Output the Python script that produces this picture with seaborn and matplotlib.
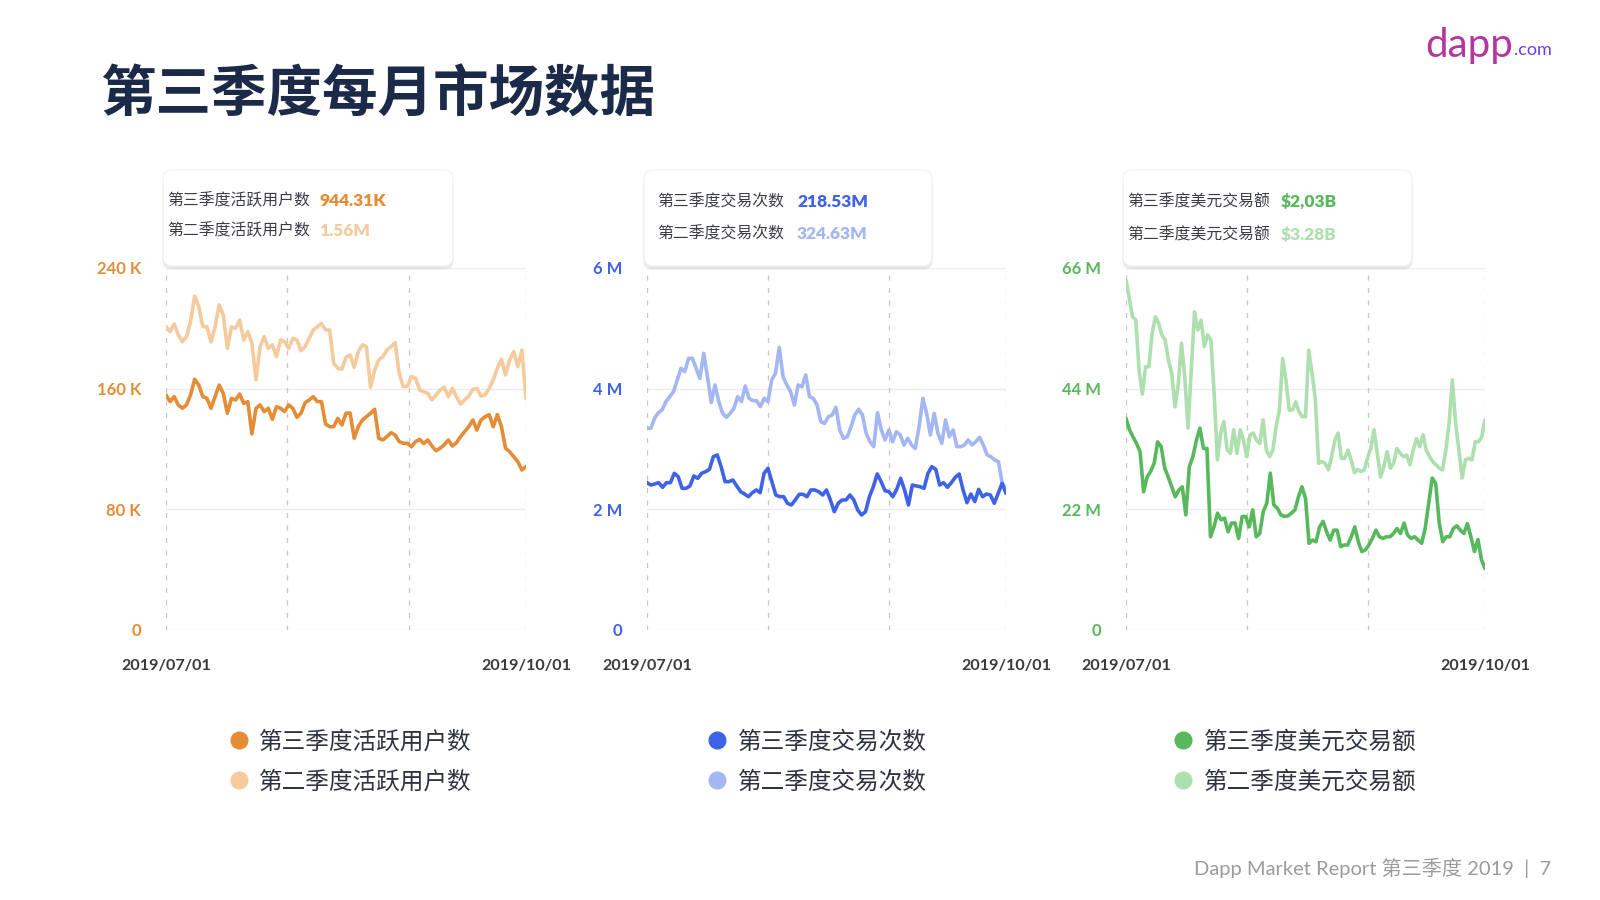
import numpy as np
import pandas as pd
import matplotlib
matplotlib.use("Agg")
import matplotlib.pyplot as plt
import seaborn as sns
from matplotlib.patches import FancyBboxPatch
from matplotlib.transforms import IdentityTransform
from matplotlib.lines import Line2D

# ---------------- data ----------------
# Active users (K)
q3_users = [155.8, 151.4, 154.7, 149.2, 147, 149.2, 155.8, 166.2, 162.4, 154.7, 153.6, 147, 154.7,
            162.4, 156.9, 143.7, 153.6, 152.5, 156.5, 150.3, 151.4, 130, 147, 149.2, 144.8, 147,
            139.7, 148, 147, 144.8, 149.2, 147, 141, 143.7, 150.7, 152.5, 154.7, 151.4, 151.4,
            136.6, 134.8, 134.8, 140.3,
            135.9, 143.7, 143.9, 127.1, 134.8, 139.2, 141.4, 143.7, 146.3, 127.1, 126, 128.2,
            130.8, 129.3, 124.9, 123.8, 123.8, 121.5, 124.9, 126.4, 123.6, 126, 122, 118.9, 120.5,
            122.7, 126, 122, 124.2, 128.2, 131.5, 134.8, 139.2, 132.6, 139.2, 141.4, 142.8, 134.8,
            142.8, 134.8, 120.5, 118.2, 114.9, 111.6, 106.1, 108.3]
q2_users = [201, 197.8, 202.9, 195.6, 191.2, 194.5, 204.4, 221.4, 214.4, 201.1, 201, 191, 201,
            215.5, 208.8, 186.7, 201, 200, 205.5, 192.3, 197.8, 190, 165.8, 187.8, 194.5, 186.8,
            189, 181.2, 192.3, 191.2, 186.8, 193.4, 192.3, 185.2, 187.8, 193.4, 198.9, 201, 203.3,
            198.9, 198.9, 176.8,
            173.5, 172.9, 180.8, 182.3, 174.2, 184.5, 189, 187.8, 160.9, 172.4, 179, 181.2, 185.6,
            187.8, 190.5, 170.2, 161.3, 161.6, 168, 166.9, 159.1, 158, 156.9, 152.5, 155.8, 159.1,
            160.9, 154.7, 160.2, 154.7, 149.8, 152.5, 155.1, 159.6, 160.2, 155.1, 155.8, 160.2,
            165.8, 173.5, 179.5, 169.1, 179, 184.5, 174.6, 185.6, 153.6]

# Transactions (M)
q3_tx = [2.442, 2.403, 2.420, 2.442, 2.365, 2.442, 2.442, 2.597, 2.541, 2.348, 2.348, 2.387, 2.553,
         2.514, 2.597, 2.624, 2.663, 2.873, 2.901, 2.707, 2.459, 2.459, 2.486, 2.387, 2.293, 2.254,
         2.210, 2.276, 2.321, 2.276, 2.597, 2.680, 2.459, 2.238, 2.210, 2.210, 2.100, 2.072, 2.155,
         2.249, 2.249, 2.210, 2.321, 2.321,
         2.293, 2.238, 2.321, 2.155, 1.961, 2.100, 2.155, 2.155, 2.238, 2.155, 1.989, 1.906, 1.961,
         2.210, 2.376, 2.586, 2.459, 2.309, 2.293, 2.210, 2.331, 2.514, 2.321, 2.072, 2.403, 2.387,
         2.376, 2.348, 2.597, 2.707, 2.663, 2.403, 2.442, 2.365, 2.442, 2.531, 2.586, 2.321, 2.110,
         2.254, 2.128, 2.331, 2.210, 2.254, 2.238, 2.100, 2.265, 2.431, 2.265]
q2_tx = [3.343, 3.343, 3.508, 3.602, 3.647, 3.785, 3.867, 3.950, 4.144, 4.337, 4.282, 4.503, 4.503,
         4.337, 4.171, 4.586, 4.199, 3.768, 4.061, 3.785, 3.591, 3.525, 3.591, 3.674, 3.867, 3.785,
         4.044, 3.840, 3.801, 3.801, 3.702, 3.840, 3.785, 4.144, 4.254, 4.685, 4.199, 4.061, 3.950,
         3.729, 4.061, 4.033, 4.227, 3.867, 3.840, 3.729, 3.453, 3.425,
         3.536, 3.564, 3.691, 3.315, 3.177, 3.204, 3.370, 3.564, 3.658, 3.564, 3.260, 3.121, 3.039,
         3.602, 3.315, 3.149, 3.315, 3.121, 3.287, 3.232, 3.066, 3.177, 3.066, 3.011, 3.370, 3.840,
         3.591, 3.232, 3.591, 3.260, 3.094, 3.481, 3.204, 3.315, 3.039, 3.039, 3.066, 3.149, 3.066,
         3.121, 3.193, 3.066, 2.901, 2.873, 2.818, 2.790, 2.431, 2.348]

# USD volume (M)
q3_vol = [38.6, 36.5, 35.2, 34.0, 32.5, 25.2, 27.9, 28.9, 30.4, 34.3, 33.4, 29.5, 27.9, 26.1, 24.3,
          25.5, 26.1, 21.0, 29.8, 31.6, 34.6, 36.8, 33.1, 33.1, 17.0, 18.8, 21.3, 20.1, 20.4, 17.9,
          19.5, 19.5, 16.7, 20.7, 20.7, 18.8, 21.9, 17.0, 17.6, 21.6, 23.1, 28.6, 22.8, 22.2, 21.0,
          20.7, 20.8, 21.3,
          21.9, 24.3, 26.1, 24.0, 15.8, 16.4, 16.1, 18.8, 19.8, 17.9, 16.4, 18.2, 18.2, 15.2, 15.5,
          15.5, 17.0, 18.8, 16.1, 14.3, 14.6, 15.5, 16.7, 18.2, 17.0, 16.7, 17.0, 17.0, 17.6, 18.5,
          17.6, 19.5, 17.3, 16.7, 17.0, 16.4, 15.8, 18.5, 23.1, 27.7, 26.7, 19.5, 16.1, 17.0, 17.0,
          18.5, 19.0, 18.2, 17.6, 19.4, 17.0, 14.3, 16.5, 12.8, 11.2]
q2_vol = [63.8, 60.5, 57.1, 56.5, 47.4, 43.0, 48.0, 48.0, 54.1, 57.1, 55.9, 53.8, 52.9, 49.2, 46.8,
          40.7, 44.7, 52.3, 46.2, 36.8, 47.4, 58.0, 54.7, 56.5, 51.7, 53.8, 52.9, 43.2, 31.0, 35.9,
          38.0, 32.8, 32.2, 36.5, 32.2, 36.5, 34.6, 31.6, 35.6, 35.9, 34.6, 34.0, 38.3, 32.8, 31.6,
          32.8, 37.1, 40.1, 49.5, 45.6, 40.1, 40.1,
          41.6, 39.8, 38.9, 38.9, 51.0, 46.8, 42.2, 30.4, 30.7, 30.4, 29.2, 31.6, 34.6, 35.9, 31.3,
          31.3, 32.8, 31.0, 28.7, 29.3, 28.9, 29.2, 31.3, 33.1, 36.5, 32.2, 27.9, 29.8, 32.5, 29.5,
          30.4, 33.1, 32.2, 31.6, 31.9, 30.1, 32.8, 34.9, 33.4, 35.6, 32.8, 31.6, 30.7, 30.1, 29.5,
          29.2, 32.8, 37.7, 45.6, 37.7, 32.8, 27.7, 31.0, 31.3, 31.0, 34.3, 34.3, 35.2, 38.3]

quarter_days = 92
month_starts = [0, 31, 62, 92]
date_labels = ["2019/07/01", "", "", "2019/10/01"]

users_ticks = [0, 80, 160, 240]
users_tick_labels = ["0", "80 K", "160 K", "240 K"]
tx_ticks = [0, 2, 4, 6]
tx_tick_labels = ["0", "2 M", "4 M", "6 M"]
vol_ticks = [0, 22, 44, 66]
vol_tick_labels = ["0", "22 M", "44 M", "66 M"]

q3_names = ["第三季度活跃用户数", "第三季度交易次数", "第三季度美元交易额"]
q2_names = ["第二季度活跃用户数", "第二季度交易次数", "第二季度美元交易额"]
q3_totals = ["944.31K", "218.53M", "$2,03B"]
q2_totals = ["1.56M", "324.63M", "$3.28B"]

title = "第三季度每月市场数据"
footer = "Dapp Market Report 第三季度 2019  |  7"

# ---------------- style ----------------
sns.set_theme(style="white")
plt.rcParams["font.family"] = ["Noto Sans CJK SC", "DejaVu Sans"]

W, H = 1600, 900
fig = plt.figure(figsize=(16, 9), dpi=100)
fig.patch.set_facecolor("white")

def fx(x):
    return x / W

def fy(y):
    return 1 - y / H

panels = [
    dict(q3=q3_users, q2=q2_users, ticks=users_ticks, labels=users_tick_labels,
         c3="#e58c36", c2="#f5ca9c", left=166, right=526,
         box=(163, 170, 453, 266), tx=167, vx=319, rows=(201, 231),
         leg_x=239, leg_text=259),
    dict(q3=q3_tx, q2=q2_tx, ticks=tx_ticks, labels=tx_tick_labels,
         c3="#3f63e6", c2="#a4b7f4", left=647, right=1006,
         box=(644, 170, 932, 266), tx=657, vx=797, rows=(202, 234),
         leg_x=717, leg_text=738),
    dict(q3=q3_vol, q2=q2_vol, ticks=vol_ticks, labels=vol_tick_labels,
         c3="#58b85c", c2="#aee0af", left=1126, right=1485,
         box=(1123, 170, 1412, 266), tx=1127, vx=1281, rows=(202, 235),
         leg_x=1183, leg_text=1204),
]

top_px, bot_px = 268, 630
num_family = ["Lato", "Noto Sans CJK SC", "DejaVu Sans"]

for i, p in enumerate(panels):
    ax = fig.add_axes([fx(p["left"]), fy(bot_px), (p["right"] - p["left"]) / W,
                       (bot_px - top_px) / H])
    x2 = np.linspace(0, quarter_days, len(p["q2"]))
    x3 = np.linspace(0, quarter_days, len(p["q3"]))
    sns.lineplot(x=x2, y=p["q2"], ax=ax, color=p["c2"], linewidth=2.6, zorder=3,
                 legend=False, sort=False, solid_joinstyle="round", solid_capstyle="round")
    sns.lineplot(x=x3, y=p["q3"], ax=ax, color=p["c3"], linewidth=2.6, zorder=4,
                 legend=False, sort=False, solid_joinstyle="round", solid_capstyle="round")
    ax.set_xlim(0, quarter_days)
    ax.set_ylim(p["ticks"][0], p["ticks"][-1])
    ax.set_yticks(p["ticks"])
    ax.set_yticklabels(p["labels"])
    ax.set_xticks(month_starts)
    ax.set_xticklabels(date_labels)
    for s in ax.spines.values():
        s.set_visible(False)
    ax.grid(False)
    for t in p["ticks"]:
        ax.axhline(t, color="#ededed", linewidth=1.0, zorder=1)
    for m in month_starts:
        ax.axvline(m, color="#c6c6c6", linewidth=0.9, linestyle=(0, (4, 6)), zorder=2)
    ax.tick_params(axis="y", length=0, pad=18, labelcolor=p["c3"], labelsize=12)
    ax.tick_params(axis="x", length=0, pad=21, labelcolor="#3a3a3a", labelsize=11.6)
    for lab in ax.get_yticklabels():
        lab.set_fontweight("bold")
        lab.set_family(num_family)
    for lab in ax.get_xticklabels():
        lab.set_fontweight("bold")
        lab.set_family(num_family)
    ax.set_xlabel("")
    ax.set_ylabel("")

    # info box with soft shadow
    x0, y0, x1, y1 = p["box"]
    for k, a in enumerate([0.05, 0.05, 0.06]):
        sh = FancyBboxPatch((x0 - 1 + k * 0.5, H - y1 - 4 + k), (x1 - x0) + 2 - k, (y1 - y0),
                            boxstyle="round,pad=0,rounding_size=9",
                            transform=IdentityTransform(), facecolor="#5a6478",
                            edgecolor="none", alpha=a, zorder=5)
        fig.add_artist(sh)
    box = FancyBboxPatch((x0, H - y1), (x1 - x0), (y1 - y0),
                         boxstyle="round,pad=0,rounding_size=9",
                         transform=IdentityTransform(), facecolor="white",
                         edgecolor="#f1f1f1", linewidth=0.8, zorder=6)
    fig.add_artist(box)
    fig.text(fx(p["tx"]), fy(p["rows"][0]), q3_names[i], fontsize=11.4, color="#3a3d45",
             ha="left", va="center", zorder=7)
    fig.text(fx(p["tx"]), fy(p["rows"][1]), q2_names[i], fontsize=11.4, color="#3a3d45",
             ha="left", va="center", zorder=7)
    fig.text(fx(p["vx"]), fy(p["rows"][0]), q3_totals[i], fontsize=12.5, color=p["c3"],
             fontweight="heavy", family=num_family, ha="left", va="center", zorder=7)
    fig.text(fx(p["vx"]), fy(p["rows"][1]), q2_totals[i], fontsize=12.5, color=p["c2"],
             fontweight="heavy", family=num_family, ha="left", va="center", zorder=7)

    # legend
    handles = [Line2D([], [], marker="o", linestyle="", color=p["c3"], markersize=12),
               Line2D([], [], marker="o", linestyle="", color=p["c2"], markersize=12)]
    hl = 0.8
    fs = 17
    fs_px = fs * 100 / 72
    leg = fig.legend(handles, [q3_names[i], q2_names[i]], loc="center left",
                     bbox_to_anchor=(fx(p["leg_x"] - hl * fs_px / 2), fy(762)),
                     frameon=False, fontsize=fs, handlelength=hl,
                     handletextpad=(p["leg_text"] - p["leg_x"] - hl * fs_px / 2) / fs_px,
                     labelspacing=0.72, borderpad=0, borderaxespad=0)
    for t in leg.get_texts():
        t.set_color("#2f3340")

# title
fig.text(fx(100), fy(96), title, fontsize=40, fontweight="bold", color="#1b2a48",
         ha="left", va="center")

# logo
fig.text(fx(1513), fy(46), "dapp", fontsize=29, color="#b4369f", ha="right", va="center",
         family=num_family)
fig.text(fx(1514), fy(50), ".com", fontsize=13, color="#6c3fe0", ha="left", va="center",
         family=num_family)

# footer
fig.text(fx(1551), fy(868), footer, fontsize=14.5, color="#9c9c9c", ha="right", va="center",
         family=["Lato", "Noto Sans CJK SC", "DejaVu Sans"])

fig.savefig("out.png", dpi=100, facecolor="white")
